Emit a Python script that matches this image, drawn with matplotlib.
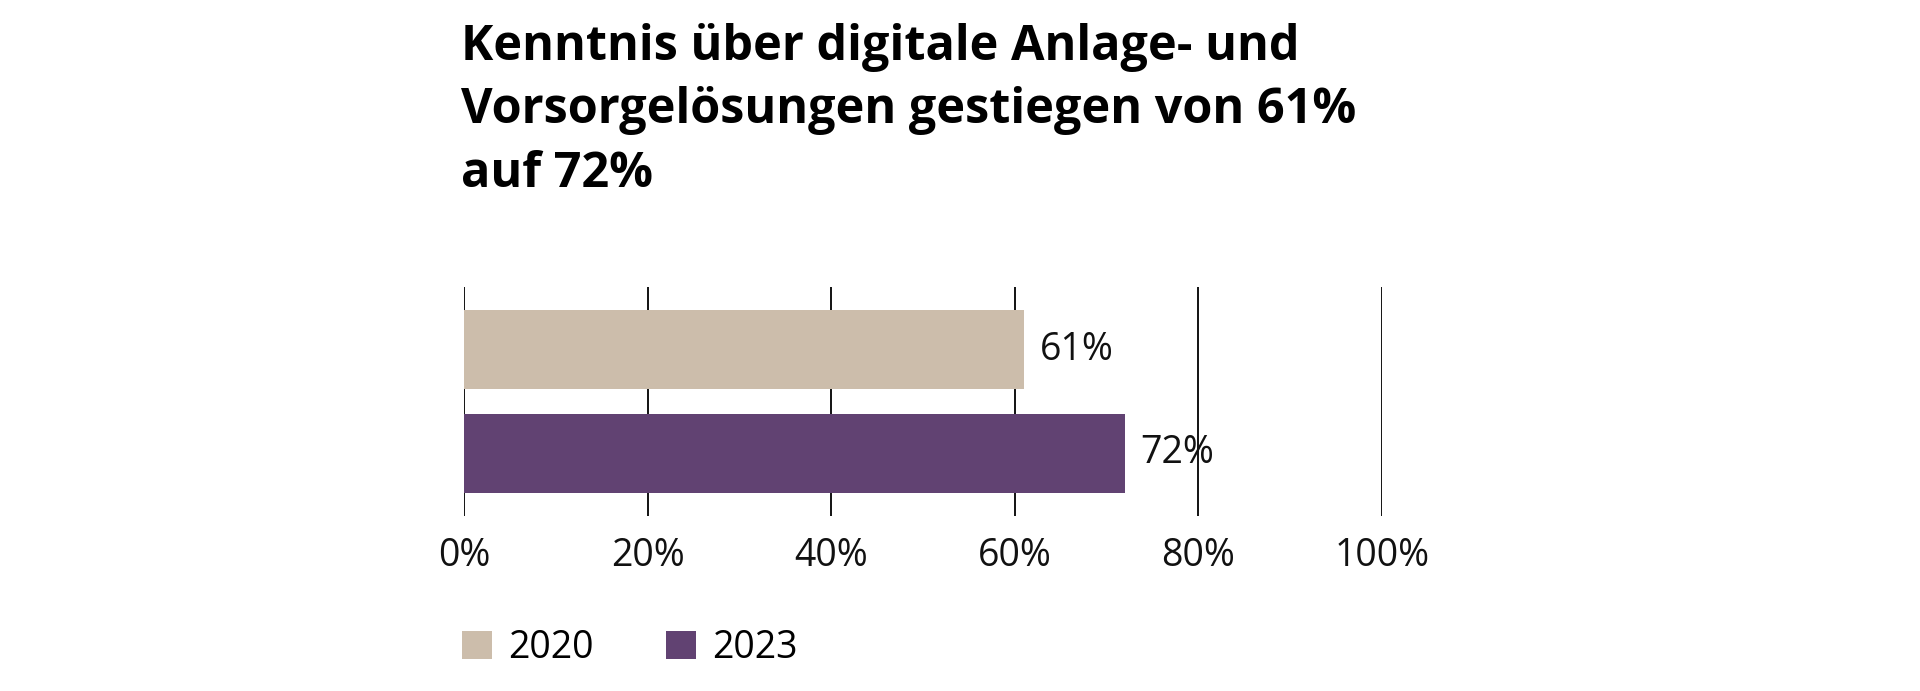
import matplotlib.pyplot as plt
from matplotlib.patches import Patch

title_lines = ["Kenntnis über digitale Anlage- und",
               "Vorsorgelösungen gestiegen von 61%",
               "auf 72%"]
years = ["2020", "2023"]
values = [61, 72]
colors = ["#CCBDAB", "#614272"]
xticks = [0, 20, 40, 60, 80, 100]

plt.rcParams['font.family'] = ['Open Sans', 'DejaVu Sans']

W, H = 1920, 691
fig = plt.figure(figsize=(W/100, H/100), dpi=100)
ax = fig.add_axes([464/W, 1-516/H, (1382-464)/W, (516-287)/H])

ypos = list(range(len(values)))
ax.barh(ypos, values, height=0.768, color=colors, zorder=2)
for y, v in zip(ypos, values):
    ax.text(v + 1.7, y, '%d%%' % v, va='center', ha='left', fontsize=27, color='#111111')

ax.set_xlim(0, 100)
ax.set_ylim(1.605, -0.605)
for xt in xticks:
    ax.axvline(xt, color='black', lw=1.3, zorder=1)
ax.set_xticks(xticks)
ax.set_xticklabels(['%d%%' % t for t in xticks], fontsize=27, color='#111111')
ax.tick_params(axis='x', length=0, pad=15)
ax.set_yticks([])
for s in ax.spines.values():
    s.set_visible(False)

basel = [60, 123, 187]
for line, b in zip(title_lines, basel):
    fig.text(461/W, 1-b/H, line, fontsize=35, fontweight='bold', va='baseline', ha='left', color='black')

handles = [Patch(facecolor=c, edgecolor='none') for c in colors]
fig.legend(handles, years, loc='center left', bbox_to_anchor=(462/W, 1-648/H), frameon=False,
           fontsize=27, handlelength=0.8, handleheight=0.8, handletextpad=0.42,
           columnspacing=1.95, ncol=2, borderpad=0, borderaxespad=0)

fig.savefig('out.png', dpi=100)
